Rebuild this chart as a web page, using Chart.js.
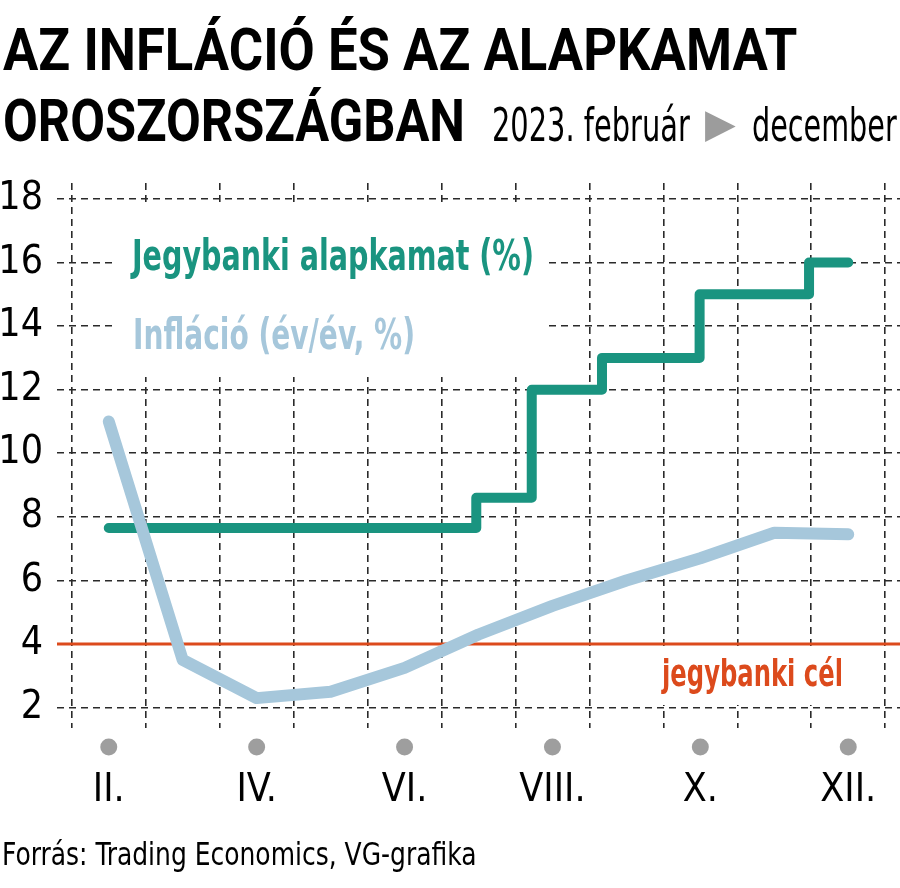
<!DOCTYPE html>
<html lang="hu">
<head>
<meta charset="utf-8">
<title>Az infláció és az alapkamat Oroszországban</title>
<script src="https://cdn.jsdelivr.net/npm/chart.js@4.4.1/dist/chart.umd.min.js"></script>
<style>
  html, body { margin: 0; padding: 0; background: #fff; }
  body { position: relative; width: 900px; height: 888px; overflow: hidden; }
  #chartBox { position: absolute; left: 0; top: 0; width: 900px; height: 888px; }
  .txt { position: absolute; top: 0; white-space: nowrap; line-height: 1; transform-origin: 0 0; color: #000; }
  #arrow { color: #9c9c9c; }
</style>
</head>
<body>
<div id="chartBox"><canvas id="chart"></canvas></div>
<div class="txt" id="title1">AZ INFLÁCIÓ ÉS AZ ALAPKAMAT</div>
<div class="txt" id="title2">OROSZORSZÁGBAN</div>
<div class="txt" id="subFrom">2023. február</div>
<div class="txt" id="arrow">▶</div>
<div class="txt" id="subTo">december</div>
<div class="txt" id="source">Forrás: Trading Economics, VG-grafika</div>
<script>
// data (x = month number, II. = 2)
const months = [2, 3, 4, 5, 6, 7, 8, 9, 10, 11, 12];
const inflation = [11.0, 3.5, 2.3, 2.5, 3.25, 4.3, 5.2, 6.0, 6.7, 7.5, 7.45];
const rateMonths = [2, 6.97, 7.72, 8.67, 9.99, 11.47, 12];
const keyRate = [7.65, 8.6, 12, 13, 15, 16, 16];
const targetRate = 4;
const tickMonths = [2, 4, 6, 8, 10, 12];
const tickLabels = ['II.', 'IV.', 'VI.', 'VIII.', 'X.', 'XII.'];
const yTicks = [2, 4, 6, 8, 10, 12, 14, 16, 18];

const X_MIN = 1.3, X_MAX = 12.7, Y_MIN = 1.36, Y_MAX = 18.5;
const GREEN = '#1a9480', BLUE = '#a6c7db', RED = '#dc4a1c', GRID = '#2a2a2a';

// pick the first installed font from a list
function hasFont(name) {
    const c = document.createElement('canvas').getContext('2d');
    const s = 'AZ INFLÁCIÓ 2023 jegybanki';
    let diff = false;
    ['monospace', 'serif'].forEach(base => {
        c.font = '40px ' + base;
        const w1 = c.measureText(s).width;
        c.font = '40px "' + name + '", ' + base;
        if (c.measureText(s).width !== w1) diff = true;
    });
    return diff;
}
const narrow = ['Liberation Sans Narrow', 'Noto Sans Condensed', 'DejaVu Sans Condensed', 'Roboto Condensed']
    .find(hasFont) || 'Liberation Sans';
const titleFont = ['Roboto', 'Liberation Sans', 'DejaVu Sans'].find(hasFont) || 'sans-serif';

// put an html text on a baseline and squeeze it to a width
function place(id, family, weight, size, left, baseline, width) {
    const el = document.getElementById(id);
    el.style.fontFamily = '"' + family + '", sans-serif';
    el.style.fontWeight = weight;
    el.style.fontSize = size + 'px';
    el.style.left = left + 'px';
    const mark = document.createElement('span');
    mark.style.cssText = 'display:inline-block;width:0;height:0;vertical-align:baseline';
    el.appendChild(mark);
    el.style.top = (baseline - mark.offsetTop) + 'px';
    el.style.transform = 'scaleX(' + (width / el.offsetWidth) + ')';
}
place('title1', titleFont, 'bold', 60, 3, 70, 794);
place('title2', titleFont, 'bold', 60, 3, 141, 462);
place('subFrom', narrow, 'normal', 47, 492, 141, 198);
place('arrow', 'DejaVu Sans', 'normal', 40, 705, 137, 31);
place('subTo', narrow, 'normal', 47, 752, 141, 145);
place('source', narrow, 'normal', 32, 2, 865, 475);

function fitText(ctx, text, x, y, width) {
    const w = ctx.measureText(text).width;
    ctx.save();
    ctx.translate(x, y);
    ctx.scale(width / w, 1);
    ctx.fillText(text, 0, 0);
    ctx.restore();
}

const decorations = {
    id: 'decorations',
    beforeDatasetsDraw(chart) {
        const {ctx, chartArea, scales: {x}} = chart;
        const ds = chart.data.datasets;
        ctx.save();
        // white boxes behind the labels
        ctx.fillStyle = '#fff';
        ctx.fillRect(112, 205, 433, 172);
        ctx.fillRect(650, 649, 200, 56);
        ctx.textBaseline = 'alphabetic';
        ctx.font = 'bold 42px "' + narrow + '"';
        ctx.fillStyle = GREEN;
        fitText(ctx, ds[1].label, 132, 270, 402);
        ctx.fillStyle = BLUE;
        fitText(ctx, ds[0].label, 133, 349, 282);
        ctx.font = 'bold 38px "' + narrow + '"';
        ctx.fillStyle = RED;
        fitText(ctx, ds[2].label, 662, 686, 181);
        // grey dots over the month labels
        ctx.fillStyle = '#9e9e9e';
        tickMonths.forEach(m => {
            ctx.beginPath();
            ctx.arc(x.getPixelForValue(m), chartArea.bottom + 19, 8.5, 0, Math.PI * 2);
            ctx.fill();
        });
        ctx.restore();
    }
};

Chart.defaults.font.family = '"' + narrow + '"';

const xTickValues = [];
months.forEach(m => { xTickValues.push(m - 0.5, m); });
xTickValues.push(months[months.length - 1] + 0.5);

new Chart(document.getElementById('chart'), {
    type: 'line',
    data: {
        datasets: [
            {
                label: 'Infláció (év/év, %)',
                data: months.map((m, i) => ({x: m, y: inflation[i]})),
                borderColor: BLUE,
                borderWidth: 12,
                borderCapStyle: 'round',
                borderJoinStyle: 'round',
                pointRadius: 0,
                tension: 0
            },
            {
                label: 'Jegybanki alapkamat (%)',
                data: rateMonths.map((m, i) => ({x: m, y: keyRate[i]})),
                stepped: true,
                borderColor: GREEN,
                borderWidth: 10,
                borderCapStyle: 'round',
                borderJoinStyle: 'round',
                pointRadius: 0
            },
            {
                label: 'jegybanki cél',
                data: [{x: X_MIN, y: targetRate}, {x: X_MAX, y: targetRate}],
                borderColor: RED,
                borderWidth: 3,
                pointRadius: 0
            }
        ]
    },
    options: {
        responsive: true,
        maintainAspectRatio: false,
        animation: false,
        layout: {padding: {top: 183, left: 0, right: 0, bottom: 0}},
        plugins: {legend: {display: false}, tooltip: {enabled: false}},
        scales: {
            x: {
                type: 'linear',
                min: X_MIN,
                max: X_MAX,
                bounds: 'data',
                afterBuildTicks: s => { s.ticks = xTickValues.map(v => ({value: v})); },
                afterFit: s => { s.height = 160; s.paddingLeft = 0; s.paddingRight = 0; },
                grid: {
                    color: c => Number.isInteger(c.tick.value) ? 'rgba(0,0,0,0)' : GRID,
                    lineWidth: 1.6,
                    drawTicks: false
                },
                border: {display: false, dash: [7, 5]},
                ticks: {
                    autoSkip: false,
                    maxRotation: 0,
                    padding: 39,
                    color: '#000',
                    font: {size: 39},
                    callback: v => {
                        const i = tickMonths.indexOf(v);
                        return i < 0 ? '' : tickLabels[i];
                    }
                }
            },
            y: {
                min: Y_MIN,
                max: Y_MAX,
                bounds: 'data',
                afterBuildTicks: s => { s.ticks = yTicks.map(v => ({value: v})); },
                afterFit: s => { s.width = 57; },
                grid: {
                    color: c => c.tick && c.tick.value === targetRate ? 'rgba(0,0,0,0)' : GRID,
                    lineWidth: 1.6,
                    drawTicks: false
                },
                border: {display: false, dash: [7, 5]},
                ticks: {padding: 14, color: '#000', font: {size: 39}}
            }
        }
    },
    plugins: [decorations]
});
</script>
</body>
</html>
